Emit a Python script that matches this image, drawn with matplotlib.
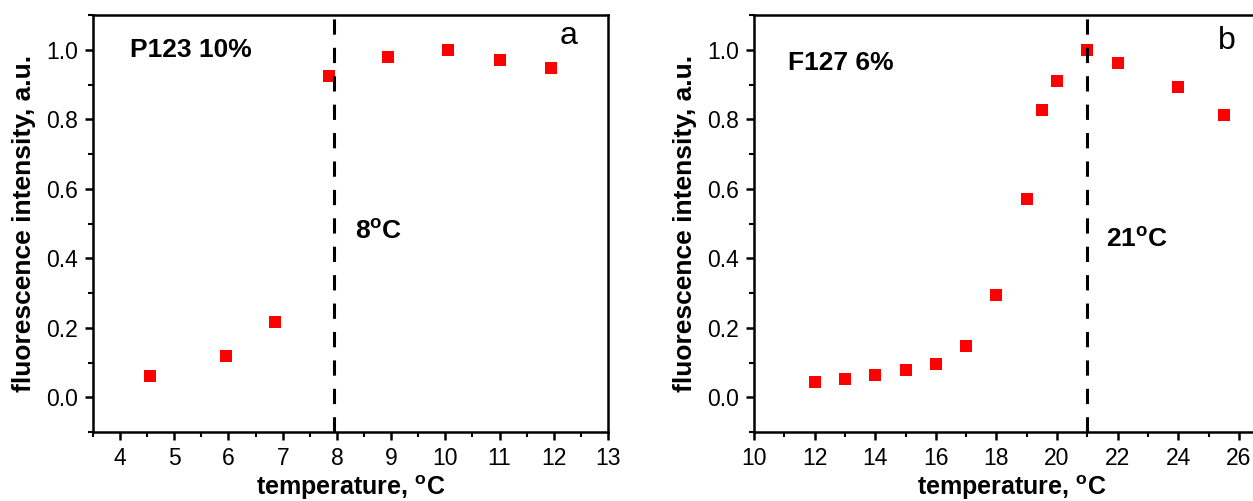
import matplotlib
matplotlib.use("Agg")
import matplotlib.pyplot as plt
from matplotlib.ticker import MultipleLocator

plt.rcParams['font.family'] = ['Liberation Sans', 'DejaVu Sans']
plt.rcParams['mathtext.fontset'] = 'custom'
plt.rcParams['mathtext.rm'] = 'Liberation Sans'
plt.rcParams['mathtext.bf'] = 'Liberation Sans:bold'

# panel a: P123 10%
temp_a = [4.55, 5.95, 6.85, 7.85, 8.95, 10.05, 11.0, 11.95]
fluor_a = [0.062, 0.120, 0.216, 0.925, 0.980, 1.000, 0.970, 0.948]
tgel_a = 7.95

# panel b: F127 6%
temp_b = [12, 13, 14, 15, 16, 17, 18, 19, 19.5, 20, 21, 22, 24, 25.5]
fluor_b = [0.045, 0.053, 0.063, 0.078, 0.097, 0.147, 0.295, 0.572,
           0.826, 0.910, 1.000, 0.962, 0.893, 0.813]
tgel_b = 21.0

fig = plt.figure(figsize=(12.53, 5.01), dpi=100)
ax1 = fig.add_axes([0.0742, 0.1377, 0.4110, 0.8323])
ax2 = fig.add_axes([0.6018, 0.1377, 0.4111, 0.8323])

xlabel = r'temperature, $\mathbf{^{o}}$C'
ylabel = 'fluorescence intensity, a.u.'


def style(ax, xlim, xmaj, xmin):
    ax.set_xlim(*xlim)
    ax.set_ylim(-0.1, 1.1)
    ax.xaxis.set_major_locator(MultipleLocator(xmaj))
    ax.xaxis.set_minor_locator(MultipleLocator(xmin))
    ax.yaxis.set_major_locator(MultipleLocator(0.2))
    ax.yaxis.set_minor_locator(MultipleLocator(0.1))
    ax.tick_params(which='major', direction='out', length=6, width=1.8,
                   labelsize=16.5, pad=5)
    ax.tick_params(which='minor', direction='out', length=3.5, width=1.5)
    ax.yaxis.set_major_formatter(plt.FormatStrFormatter('%.1f'))
    for s in ax.spines.values():
        s.set_linewidth(1.8)
    ax.set_xlabel(xlabel, fontsize=18, fontweight='bold', labelpad=2)
    ax.set_ylabel(ylabel, fontsize=19, fontweight='bold', labelpad=7)


ax1.plot(temp_a, fluor_a, 's', color='red', ms=8.2, mew=0, ls='none')
ax1.axvline(tgel_a, color='black', ls=(0, (5, 4.3)), lw=2.2)
style(ax1, (3.5, 13), 1, 0.5)
ax1.text(4.18, 1.0, 'P123 10%', fontsize=19, fontweight='bold', va='center')
ax1.text(8.33, 0.475, r'8$\mathbf{^{o}}$C', fontsize=19, fontweight='bold', va='center')
ax1.text(12.1, 1.04, 'a', fontsize=23, va='center')

ax2.plot(temp_b, fluor_b, 's', color='red', ms=8.2, mew=0, ls='none')
ax2.axvline(tgel_b, color='black', ls=(0, (5, 4.3)), lw=2.2)
style(ax2, (10, 27), 2, 1)
ax2.text(11.12, 0.962, 'F127 6%', fontsize=19, fontweight='bold', va='center')
ax2.text(21.6, 0.453, r'21$\mathbf{^{o}}$C', fontsize=19, fontweight='bold', va='center')
ax2.text(25.3, 1.026, 'b', fontsize=23, va='center')

fig.savefig('out.png', dpi=100)
